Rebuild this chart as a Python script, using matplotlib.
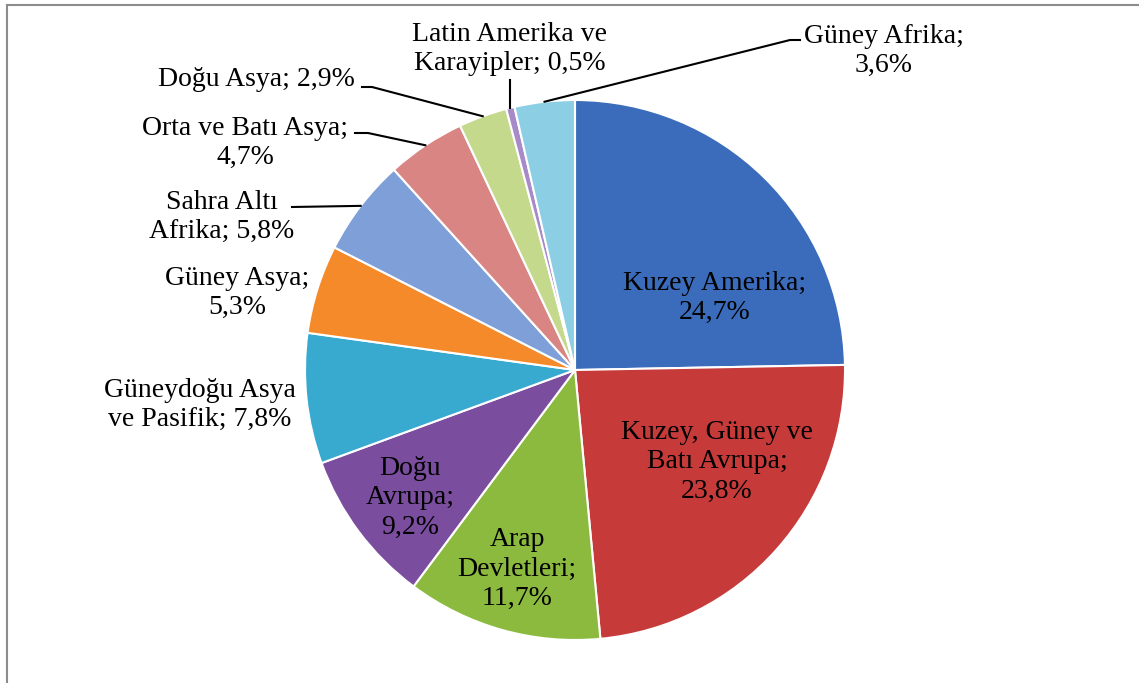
import matplotlib.pyplot as plt
import numpy as np

W, H = 1139, 683

shares = [24.7, 23.8, 11.7, 9.2, 7.8, 5.3, 5.8, 4.7, 2.9, 0.5, 3.6]
colors = ['#3a6cbb', '#c63a3a', '#8cba3e', '#7a4d9f', '#38a9cf', '#f58a2b',
          '#7f9fd8', '#d98583', '#c5d98c', '#a68bc8', '#8ccfe4']

# label text and its position (pixels from top-left), per slice
label_text = ['Kuzey Amerika;\n24,7%', 'Kuzey, Güney ve\nBatı Avrupa;\n23,8%', 'Arap\nDevletleri;\n11,7%',
              'Doğu\nAvrupa;\n9,2%', 'Güneydoğu Asya\nve Pasifik; 7,8%', 'Güney Asya;\n5,3%',
              'Sahra Altı\nAfrika; 5,8%', 'Orta ve Batı Asya;\n4,7%', 'Doğu Asya; 2,9%',
              'Latin Amerika ve\nKarayipler; 0,5%', 'Güney Afrika;\n3,6%']
label_pos = [(715, 298), (717, 462), (517, 569), (410, 498), (200, 405), (237, 293),
             (222, 217), (245, 143), (256, 80), (510, 49), (884, 51)]
# elbow points of leader lines (None = no leader)
elbows = [None, None, None, None, None, None,
          [(292, 207)], [(355, 133), (368, 133)], [(362, 87), (372, 87)],
          'vertical', [(800, 40), (790, 40)]]

fig = plt.figure(figsize=(W / 100, H / 100), dpi=100)
ax = fig.add_axes([0, 0, 1, 1])

cx, cy, r = 575, 370, 270
wedges, _ = ax.pie(shares, colors=colors, startangle=90, counterclock=False,
                   center=(cx, H - cy), radius=r, frame=True,
                   wedgeprops=dict(edgecolor='white', linewidth=1.5))
ax.set_xlim(0, W)
ax.set_ylim(0, H)
ax.axis('off')

font = dict(family='Liberation Serif', fontsize=20, linespacing=1.25, ha='center', va='center')
for i, w in enumerate(wedges):
    tx, ty = label_pos[i]
    ax.text(tx, H - ty, label_text[i], **font)
    if elbows[i] is None:
        continue
    ang = np.deg2rad((w.theta1 + w.theta2) / 2)
    wx, wy = cx + r * np.cos(ang), (H - cy) + r * np.sin(ang)
    if elbows[i] == 'vertical':
        xs, ys = [wx, wx], [H - 80, wy]
    else:
        xs = [p[0] for p in elbows[i]] + [wx]
        ys = [H - p[1] for p in elbows[i]] + [wy]
    ax.plot(xs, ys, color='black', lw=1.5)

# chart border (top and left only visible)
ax.plot([7, W], [H - 5, H - 5], color='#8c8c8c', lw=1.5)
ax.plot([7, 7], [H - 5, 0], color='#8c8c8c', lw=1.5)

fig.savefig('out.png', dpi=100)
